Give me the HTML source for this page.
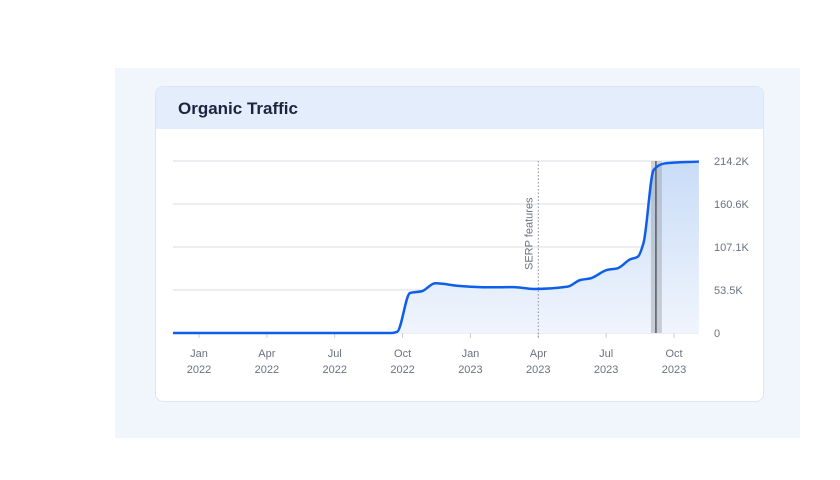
<!DOCTYPE html>
<html><head><meta charset="utf-8"><style>
body{margin:0;width:840px;height:480px;background:#fff;font-family:"Liberation Sans",sans-serif;overflow:hidden;position:relative}
#bg{position:absolute;left:115px;top:68px;width:685px;height:370px;background:#f1f6fc}
#card{position:absolute;left:155px;top:86px;width:607px;height:314px;background:#fff;border:1px solid #dbe6f5;border-radius:8px;overflow:hidden}
#hdr{height:42px;background:#e3edfc;font-weight:bold;font-size:17px;color:#1b2440;line-height:44px;padding-left:22px}
svg{position:absolute;left:0;top:0}
</style></head><body>
<div id="bg"></div>
<div id="card"><div id="hdr">Organic Traffic</div></div>
<svg id="c" width="840" height="480"></svg>
<script>
const months=[-1.15,8.5,8.76,9.33,9.85,10.44,11.55,12.73,13.9,14.8,16.3,16.86,17.3,18.04,18.5,19.07,19.4,19.65,20.1,20.55,22.1];
const values=[0,0,1.5,49.8,52,61.9,58.5,56.9,57.2,54.8,57.7,66,68,78.5,80.6,91.8,95,112,203,211,213.5];
const yTicks=[0,53.5,107.1,160.6,214.2];
const yLabels=["0","53.5K","107.1K","160.6K","214.2K"];
const xTickM=[0,3,6,9,12,15,18,21];
const xTickL=[["Jan","2022"],["Apr","2022"],["Jul","2022"],["Oct","2022"],["Jan","2023"],["Apr","2023"],["Jul","2023"],["Oct","2023"]];
const serpM=15;
const eventM=20.2;
const X=m=>199+m*22.62, Y=v=>333-v/214.2*172;
const ns="http://www.w3.org/2000/svg",s=document.getElementById('c');
function mk(t,a,p){const e=document.createElementNS(ns,t);for(const k in a)e.setAttribute(k,a[k]);(p||s).appendChild(e);return e;}
const defs=mk('defs',{});const g=mk('linearGradient',{id:'gr',x1:0,y1:0,x2:0,y2:1},defs);
mk('stop',{offset:0,'stop-color':'#c9dcf7'},g);mk('stop',{offset:1,'stop-color':'#f0f5fd'},g);
yTicks.forEach((v,i)=>{const l=mk('line',{x1:173,x2:698,y1:Y(v),y2:Y(v),stroke:'#dadee4','stroke-width':1});

const t=mk('text',{x:714,y:Y(v)+4,'font-size':11,fill:'#6b7180'});t.textContent=yLabels[i];
});
xTickM.forEach((m,i)=>{mk('line',{x1:X(m),x2:X(m),y1:333,y2:338,stroke:'#c9ced6'});
xTickL[i].forEach((s2,j)=>{const t=mk('text',{x:X(m),y:357+j*16,'font-size':11,fill:'#6b7180','text-anchor':'middle'});t.textContent=s2;
});});
const P=months.map((m,i)=>[X(m),Y(values[i])]);
// monotone cubic (Fritsch-Carlson)
const n=P.length,dx=[],sl=[],tg=[];
for(let i=0;i<n-1;i++){dx[i]=P[i+1][0]-P[i][0];sl[i]=(P[i+1][1]-P[i][1])/dx[i];}
tg[0]=sl[0];tg[n-1]=sl[n-2];
for(let i=1;i<n-1;i++){tg[i]=(sl[i-1]*sl[i]<=0)?0:3*(dx[i-1]+dx[i])/((2*dx[i]+dx[i-1])/sl[i-1]+(dx[i]+2*dx[i-1])/sl[i]);}
let d='M'+P[0][0]+','+P[0][1];
for(let i=0;i<n-1;i++){const h=dx[i]/3;
d+=`C${P[i][0]+h},${P[i][1]+tg[i]*h} ${P[i+1][0]-h},${P[i+1][1]-tg[i+1]*h} ${P[i+1][0]},${P[i+1][1]}`;}
const area=mk('path',{d:d+`L${P[n-1][0]},333L${P[0][0]},333Z`,fill:'url(#gr)'});

const band=mk('rect',{x:X(eventM)-5,y:161,width:11,height:172,fill:'#9aa0a8',opacity:0.45});

mk('line',{x1:X(eventM),x2:X(eventM),y1:161,y2:333,stroke:'#555b63','stroke-width':1.5});
const serp=mk('line',{x1:X(serpM),x2:X(serpM),y1:161,y2:338,stroke:'#8a9099','stroke-dasharray':'1.5,2'});

const st=mk('text',{x:0,y:0,'font-size':11,fill:'#6b7180',transform:`translate(${X(serpM)-6},270) rotate(-90)`});st.textContent='SERP features';

const line=mk('path',{d:d,fill:'none',stroke:'#0d5ee8','stroke-width':2.5,'stroke-linejoin':'round'});

</script></body></html>
